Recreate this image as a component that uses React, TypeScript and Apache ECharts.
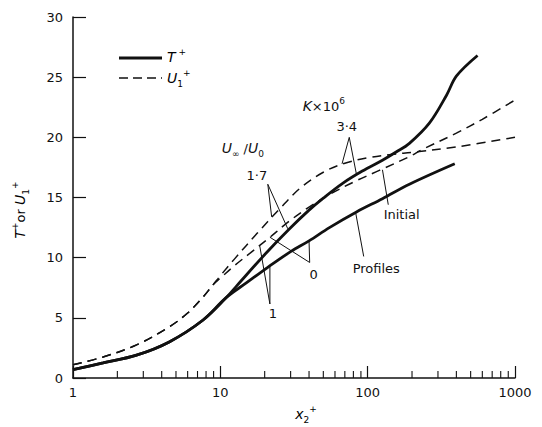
import React, { useEffect, useRef } from "react";
import * as echarts from "echarts";

// ---- Data ----
// T+ , initial profile (K = 0, U∞/U0 = 1)
const tInitialX = [1, 1.6, 2.7, 4.5, 7.6, 11, 15, 21, 30, 40, 55, 84, 126, 192, 390];
const tInitialY = [0.7, 1.25, 1.9, 3.0, 4.8, 6.7, 7.9, 9.2, 10.5, 11.4, 12.5, 13.8, 14.9, 16.1, 17.8];

// T+ , accelerated (K×10^6 = 3.4, U∞/U0 = 1.7)
const tAccelX = [1, 1.6, 2.7, 4.5, 7.6, 11, 13, 20.7, 29.5, 40, 50, 68, 92, 126, 157, 192, 263, 343, 401, 557];
const tAccelY = [0.7, 1.25, 1.9, 3.0, 4.8, 6.7, 7.7, 10.45, 12.4, 13.95, 14.95, 16.2, 17.2, 18.1, 18.8, 19.5, 21.2, 23.5, 25.1, 26.8];

// U1+ , accelerated (K×10^6 = 3.4)
const uAccelX = [1, 1.6, 2.7, 4.5, 6, 7.6, 9, 10, 12.5, 17.7, 25, 35, 50, 70, 100, 150, 200, 400, 1000];
const uAccelY = [1.1, 1.75, 2.75, 4.25, 5.4, 6.7, 7.8, 8.5, 9.9, 12.0, 14.0, 15.8, 17.1, 17.85, 18.3, 18.6, 18.75, 19.2, 20.0];

// U1+ , initial profile (K = 0)
const uInitialX = [1, 1.6, 2.7, 4.5, 6, 7.6, 9, 10, 12.5, 16, 21, 29.5, 40, 58, 84, 120, 192, 236, 400, 600, 1000];
const uInitialY = [1.1, 1.75, 2.75, 4.25, 5.4, 6.7, 7.8, 8.3, 9.35, 10.4, 11.55, 13.05, 14.2, 15.4, 16.4, 17.25, 18.4, 19.0, 20.35, 21.5, 23.1];

const yTicks = { min: 0, max: 30, interval: 5 };
const xRange = { min: 1, max: 1000 };
const minorMultipliers = [2, 3, 4, 5, 6, 7, 8, 9];
const decades = [1, 10, 100];

// ---- Annotations (data coordinates) ----
const leaderSegments: number[][] = [
  [75, 20.0, 67, 17.8],
  [75, 20.0, 84, 16.9],
  [21, 16.1, 22.3, 13.4],
  [21, 16.1, 28.7, 12.4],
  [40.4, 9.6, 40, 11.4],
  [40.4, 9.6, 21.7, 11.7],
  [21.7, 6.15, 18.5, 11.0],
  [21.7, 6.15, 21.7, 9.3],
  [126, 17.3, 138, 14.4],
  [83, 13.7, 94, 10.1],
];

const annotationTexts: { at: number[]; text: string; align: string }[] = [
  { at: [14.2, 19.1], text: "{i|U}{sub|∞}{r| /}{i|U}{sub|0}", align: "center" },
  { at: [17.7, 16.8], text: "{r|1·7}", align: "center" },
  { at: [36.2, 22.6], text: "{i|K}{r|×10}{sup|6}", align: "left" },
  { at: [72.1, 20.9], text: "{r|3·4}", align: "center" },
  { at: [43, 8.6], text: "{r|0}", align: "center" },
  { at: [22.7, 5.4], text: "{r|1}", align: "center" },
  { at: [128.4, 13.6], text: "{r|Initial}", align: "left" },
  { at: [79.1, 9.06], text: "{r|Profiles}", align: "left" },
];

const FONT = "DejaVu Sans";
const INK = "#111";

const rich = {
  r: { fontSize: 13, fontFamily: FONT, color: INK, lineHeight: 20 },
  i: { fontSize: 14, fontFamily: FONT, fontStyle: "italic", color: INK, lineHeight: 20 },
  sup: { fontSize: 9, fontFamily: FONT, color: INK, verticalAlign: "top", lineHeight: 20 },
  sub: { fontSize: 9, fontFamily: FONT, color: INK, verticalAlign: "bottom", lineHeight: 20 },
};

function pairs(xs: number[], ys: number[]) {
  return xs.map((x, i) => [x, ys[i]]);
}

export default function App() {
  const ref = useRef<HTMLDivElement>(null);

  useEffect(() => {
    if (!ref.current) return;
    const chart = echarts.init(ref.current, undefined, { renderer: "svg" });

    const minorTicks: number[][] = [];
    decades.forEach((d) => minorMultipliers.forEach((m) => minorTicks.push([d * m, 0])));

    const solid = (name: string, data: number[][]) => ({
      type: "line",
      name,
      data,
      symbol: "none",
      smooth: 0.35,
      lineStyle: { color: INK, width: 2.8 },
      silent: true,
      z: 3,
    });
    const dashed = (name: string, data: number[][]) => ({
      type: "line",
      name,
      data,
      symbol: "none",
      smooth: 0.35,
      lineStyle: { color: INK, width: 1.5, type: [9, 6] },
      silent: true,
      z: 3,
    });

    chart.setOption({
      animation: false,
      grid: { left: 73, right: 27, top: 17, bottom: 49, containLabel: false },
      xAxis: {
        type: "log",
        logBase: 10,
        min: xRange.min,
        max: xRange.max,
        axisLine: { show: true, lineStyle: { color: INK, width: 1.5 } },
        axisTick: { show: true, inside: true, length: 12, lineStyle: { color: INK, width: 1.2 } },
        axisLabel: {
          color: INK,
          fontSize: 13,
          fontFamily: FONT,
          margin: 8,
          formatter: (v: number) => String(Math.round(v)),
        },
        splitLine: { show: false },
      },
      yAxis: {
        type: "value",
        min: yTicks.min,
        max: yTicks.max,
        interval: yTicks.interval,
        axisLine: { show: true, lineStyle: { color: INK, width: 1.5 } },
        axisTick: { show: true, inside: true, length: 13, lineStyle: { color: INK, width: 1.2 } },
        axisLabel: { color: INK, fontSize: 13, fontFamily: FONT, margin: 10 },
        splitLine: { show: false },
      },
      series: [
        solid("T+ initial", pairs(tInitialX, tInitialY)),
        solid("T+ K=3.4", pairs(tAccelX, tAccelY)),
        dashed("U1+ K=3.4", pairs(uAccelX, uAccelY)),
        dashed("U1+ initial", pairs(uInitialX, uInitialY)),
        {
          type: "custom",
          name: "minor ticks",
          silent: true,
          clip: false,
          data: minorTicks,
          encode: { x: 0, y: 1 },
          renderItem: (_p: any, api: any) => {
            const p = api.coord([api.value(0), api.value(1)]);
            return {
              type: "line",
              shape: { x1: p[0], y1: p[1], x2: p[0], y2: p[1] - 7 },
              style: { stroke: INK, lineWidth: 1.1 },
            };
          },
        },
        {
          type: "custom",
          name: "leaders",
          silent: true,
          clip: false,
          data: leaderSegments,
          encode: { x: [0, 2], y: [1, 3] },
          renderItem: (_p: any, api: any) => {
            const a = api.coord([api.value(0), api.value(1)]);
            const b = api.coord([api.value(2), api.value(3)]);
            return {
              type: "line",
              shape: { x1: a[0], y1: a[1], x2: b[0], y2: b[1] },
              style: { stroke: INK, lineWidth: 1 },
            };
          },
        },
        {
          type: "custom",
          name: "labels",
          silent: true,
          clip: false,
          data: annotationTexts.map((t, i) => [t.at[0], t.at[1], i]),
          encode: { x: 0, y: 1 },
          renderItem: (_p: any, api: any) => {
            const idx = api.value(2);
            const t = annotationTexts[idx];
            const p = api.coord([api.value(0), api.value(1)]);
            return {
              type: "text",
              x: p[0],
              y: p[1],
              style: {
                text: t.text,
                rich,
                align: t.align,
                verticalAlign: "middle",
                fill: INK,
              },
            };
          },
        },
      ],
      graphic: [
        { type: "line", shape: { x1: 119, y1: 58, x2: 162, y2: 58 }, style: { stroke: INK, lineWidth: 3 } },
        {
          type: "line",
          shape: { x1: 119, y1: 78, x2: 162, y2: 78 },
          style: { stroke: INK, lineWidth: 1.5, lineDash: [9, 5] },
        },
        {
          type: "text",
          x: 167,
          y: 57,
          style: { text: "{i|T}{sup| +}", rich, verticalAlign: "middle", align: "left" },
        },
        {
          type: "text",
          x: 167,
          y: 78,
          style: { text: "{i|U}{sub|1}{sup|+}", rich, verticalAlign: "middle", align: "left" },
        },
        {
          type: "text",
          x: 20,
          y: 210,
          rotation: Math.PI / 2,
          style: {
            text: "{i|T}{sup|+}{r|or }{i|U}{sub|1}{sup|+}",
            rich,
            align: "center",
            verticalAlign: "middle",
          },
        },
        {
          type: "text",
          x: 306,
          y: 414,
          style: {
            text: "{i|x}{sub|2}{sup|+}",
            rich,
            align: "center",
            verticalAlign: "middle",
          },
        },
      ],
    });

    return () => chart.dispose();
  }, []);

  return (
    <div
      ref={ref}
      style={{ position: "absolute", left: 0, top: 0, width: 542, height: 427, background: "#fff" }}
    />
  );
}
